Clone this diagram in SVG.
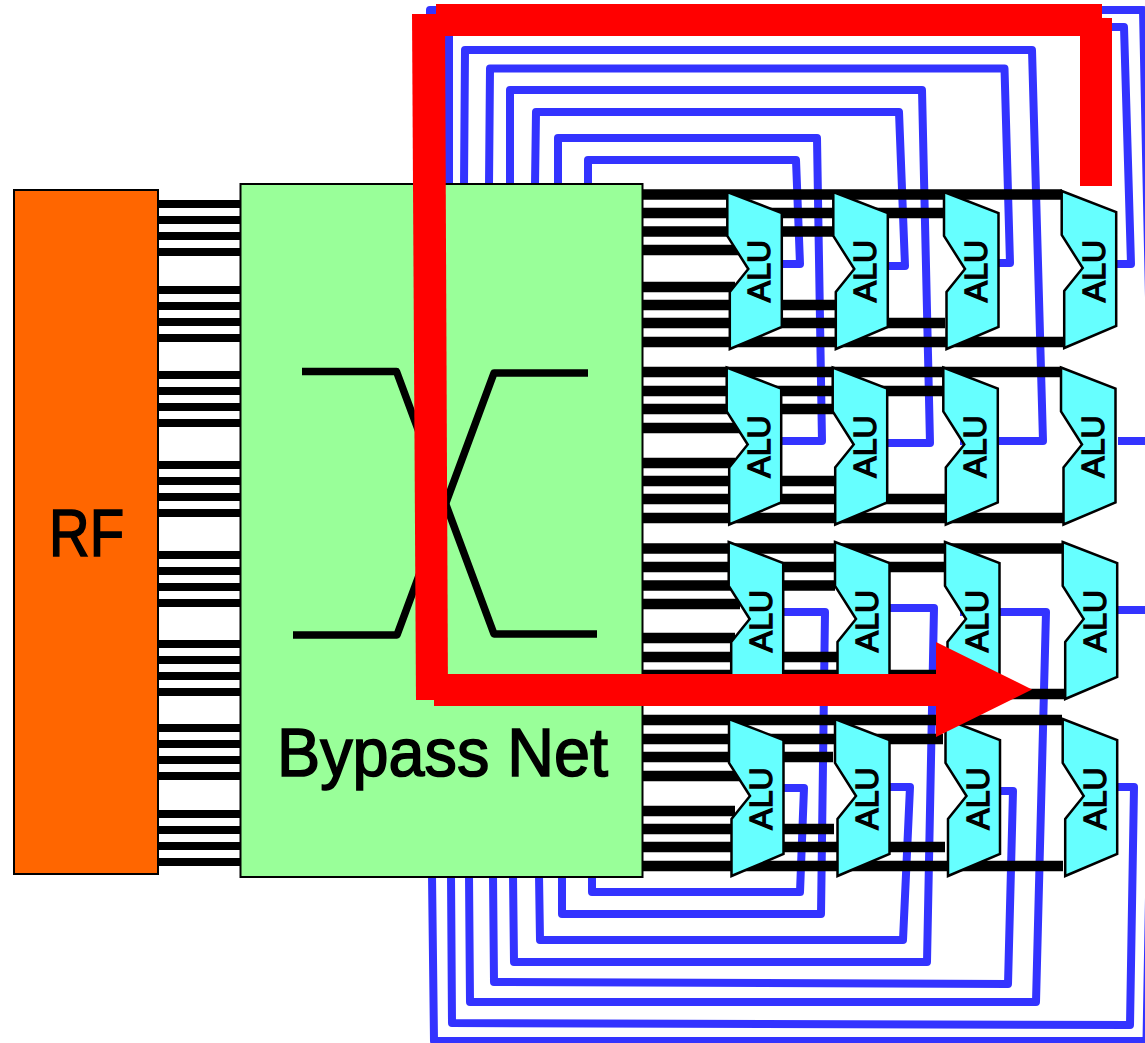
<svg xmlns="http://www.w3.org/2000/svg" width="1145" height="1043" viewBox="0 0 1145 1043">
<style>
.wire{fill:none;stroke:#3333ff;stroke-width:8;stroke-linejoin:round}
.lbus{stroke:#000;stroke-width:8}
.rbus{stroke:#000;stroke-width:10.5}
.mux{fill:none;stroke:#000;stroke-width:7.5;stroke-linejoin:round}
.alu{fill:#66ffff;stroke:#000;stroke-width:2.5;stroke-linejoin:miter}
.alut{font-family:"Liberation Sans",Arial,sans-serif;font-size:32px;text-anchor:middle;fill:#000;stroke:#000;stroke-width:1.4}
.big{font-family:"Liberation Sans",Arial,sans-serif;fill:#000;stroke:#000;stroke-width:1.6}
.red{fill:#ff0000}
</style>
<defs>
<polygon id="alushape" class="alu" points="0,0 54.5,21 54.5,135 2.5,157 2.5,100 21,77 0,44"/>
</defs>
<rect width="1145" height="1043" fill="#fff"/>
<g id="blue-wires">
<path class="wire" d="M1118 441H1152L1143 10H430V185"/>
<path class="wire" d="M1115 264H1131L1124 27H449V185"/>
<path class="wire" d="M960 441H1043L1032 50H465L464 185"/>
<path class="wire" d="M997 263H1010L1004.500 68.500H490L489 185"/>
<path class="wire" d="M885 443H930L922 90H510V185"/>
<path class="wire" d="M885 266H905L899 112H536L535 185"/>
<path class="wire" d="M780 441H822L817 138H558V185"/>
<path class="wire" d="M780 264H800L796 160H588V185"/>
<path class="wire" d="M784 788H804L800 892H592V875"/>
<path class="wire" d="M784 612H825L821 914H562V875"/>
<path class="wire" d="M888 787H910L903 940H540L539 875"/>
<path class="wire" d="M888 608H934L927 962H514L513 875"/>
<path class="wire" d="M1000 791H1013L1008 984L494 982L493 875"/>
<path class="wire" d="M960 612H1046L1036 1002H470L469 875"/>
<path class="wire" d="M1118 787H1134L1130 1025L452 1023L451 875"/>
<path class="wire" d="M1118 610H1154L1146.500 1041H434L432 875"/>
</g>
<g id="rf-bypass-buses">
<path class="lbus" d="M158 204H240M158 220H240M158 236H240M158 252H240M158 290H240M158 306H240M158 322H240M158 338H240M158 375H240M158 391H240M158 407H240M158 423H240M158 465H240M158 481H240M158 497H240M158 513H240M158 555H240M158 571H240M158 587H240M158 603H240M158 644H240M158 660H240M158 676H240M158 692H240M158 728H240M158 744H240M158 760H240M158 776H240M158 814H240M158 830H240M158 846H240M158 862H240"/>
</g>
<g id="rf">
<rect x="14" y="190" width="144" height="684" fill="#ff6600" stroke="#000" stroke-width="2"/>
<text class="big" x="49" y="556" font-size="66" textLength="75" lengthAdjust="spacingAndGlyphs">RF</text>
</g>
<g id="bypass-net">
<rect x="240.500" y="184" width="402" height="693" fill="#99ff99" stroke="#000" stroke-width="2"/>
<path class="mux" d="M302 371.500H396.500L494 634H597"/>
<path class="mux" d="M293 635H397L494 373H588"/>
<text class="big" x="277" y="776" font-size="68" textLength="331" lengthAdjust="spacingAndGlyphs">Bypass Net</text>
</g>
<g id="alu-buses">
<path class="rbus" d="M642 194.500H1062M642 213H943M642 231.500H833M642 250H740M642 287H735M642 305H835M642 323H945M642 342H1063"/>
<path class="rbus" d="M642 372H1061M642 391H943M642 409H833M642 428H740M642 463H735M642 481H835M642 499H945M642 518H1063"/>
<path class="rbus" d="M642 548.500H1062M642 567H945M642 585.500H835M642 604H740M642 638H735M642 657H837M642 675H945M642 694H1065"/>
<path class="rbus" d="M642 720H1062M642 739H943M642 757H833M642 776H740M642 811H735M642 829H834M642 847H945M642 866H1063"/>
</g>
<g id="alu-1-1" transform="translate(727.300,192)"><use href="#alushape"/><text class="alut" transform="translate(43,79) rotate(-90)">ALU</text></g>
<g id="alu-1-2" transform="translate(833.300,192)"><use href="#alushape"/><text class="alut" transform="translate(43,79) rotate(-90)">ALU</text></g>
<g id="alu-1-3" transform="translate(944,192)"><use href="#alushape"/><text class="alut" transform="translate(43,79) rotate(-90)">ALU</text></g>
<g id="alu-1-4" transform="translate(1061.700,191)"><use href="#alushape"/><text class="alut" transform="translate(43,80) rotate(-90)">ALU</text></g>
<g id="alu-2-1" transform="translate(726.700,367.500)"><use href="#alushape"/><text class="alut" transform="translate(43,79) rotate(-90)">ALU</text></g>
<g id="alu-2-2" transform="translate(832.700,367.500)"><use href="#alushape"/><text class="alut" transform="translate(43,79) rotate(-90)">ALU</text></g>
<g id="alu-2-3" transform="translate(943.300,367.500)"><use href="#alushape"/><text class="alut" transform="translate(43,79) rotate(-90)">ALU</text></g>
<g id="alu-2-4" transform="translate(1061,367.500)"><use href="#alushape"/><text class="alut" transform="translate(43,79) rotate(-90)">ALU</text></g>
<g id="alu-3-1" transform="translate(728.700,542)"><use href="#alushape"/><text class="alut" transform="translate(43,79) rotate(-90)">ALU</text></g>
<g id="alu-3-2" transform="translate(835,542)"><use href="#alushape"/><text class="alut" transform="translate(43,79) rotate(-90)">ALU</text></g>
<g id="alu-3-3" transform="translate(945,542)"><use href="#alushape"/><text class="alut" transform="translate(43,79) rotate(-90)">ALU</text></g>
<g id="alu-3-4" transform="translate(1062.700,542)"><use href="#alushape"/><text class="alut" transform="translate(43,79) rotate(-90)">ALU</text></g>
<g id="alu-4-1" transform="translate(729,719)"><use href="#alushape"/><text class="alut" transform="translate(43,79.500) rotate(-90)">ALU</text></g>
<g id="alu-4-2" transform="translate(835,719)"><use href="#alushape"/><text class="alut" transform="translate(43,79.500) rotate(-90)">ALU</text></g>
<g id="alu-4-3" transform="translate(945.500,719)"><use href="#alushape"/><text class="alut" transform="translate(43,79.500) rotate(-90)">ALU</text></g>
<g id="alu-4-4" transform="translate(1062.700,719)"><use href="#alushape"/><text class="alut" transform="translate(43,79.500) rotate(-90)">ALU</text></g>
<g id="red-path">
<rect class="red" x="436" y="4" width="666" height="32"/>
<polygon class="red" points="412,14 1112,18 1112,36 445,36"/>
<rect class="red" x="1080" y="18" width="32" height="168"/>
<polygon class="red" points="412,14 445,14 448,700 416,700"/>
<polygon class="red" points="434,674 936,674 936,642 1032,689.500 936,737 936,706 434,706"/>
</g>
</svg>
